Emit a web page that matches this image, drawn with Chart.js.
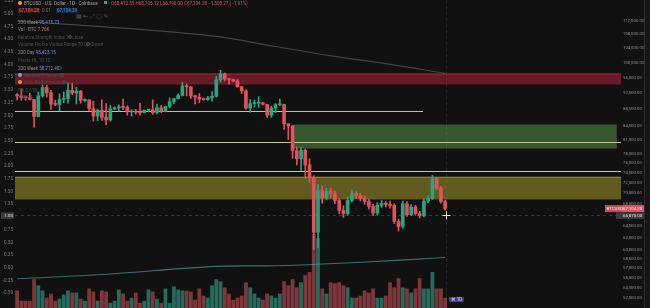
<!DOCTYPE html>
<html><head><meta charset="utf-8">
<script src="https://cdn.jsdelivr.net/npm/chart.js@4.4.1/dist/chart.umd.min.js"></script>
<style>
html,body{margin:0;padding:0;background:#111111;}
#wrap{position:relative;width:650px;height:308px;overflow:hidden;background:#111111;font-family:Roboto,"DejaVu Sans",sans-serif;}
canvas{position:absolute;left:0;top:0;}
.t{position:absolute;white-space:nowrap;font-size:4.6px;line-height:5px;color:#8a8a8a;}
.f{color:#4c4c4c;}
.b{color:#6a8fd8;}
.ic{position:absolute;width:4px;height:4px;border-radius:50%;}
.eye{position:absolute;width:4px;height:4px;border-radius:50%;border:1px solid #4a4a4a;box-sizing:border-box;}
</style></head><body>
<div id="wrap">
<canvas id="c" width="650" height="308"></canvas>
<div class="ic" style="left:18px;top:1px;background:#f0a030"></div>
<div class="t" style="left:24px;top:1px;color:#a0a0a0">BTCUSD · U.S. Dollar · 1D · Coinbase</div>
<div class="t" style="left:104px;top:1px;width:3px;height:3px;background:#2ea37f"></div>
<div class="t" style="left:111px;top:1px;color:#d2555f">O68,412.55 H68,705.12 L66,790.00 C67,104.28 −1,308.27 (−1.91%)</div>
<div class="t" style="left:18px;top:8px;background:#3b171b;color:#e0606a;padding:0 1px">67,104.28</div>
<div class="t" style="left:42px;top:8px;color:#6a6a6a">0.01</div>
<div class="t" style="left:56px;top:8px;background:#16233d;color:#5c8ee6;padding:0 1px">67,104.29</div>
<div class="t" style="left:76px;top:13px;font-size:6px;color:#555">▦ ⇤ ⤢ ▢ ✎</div>
<div class="t" style="left:18px;top:20px">200 Week <span class="b">95,475.73</span></div>
<div class="t" style="left:18px;top:27px">Vol · BTC <span style="color:#e0705a">7.76K</span></div>
<div class="t f" style="left:18px;top:35px">Relative Strength Index 14 close</div>
<div class="eye" style="left:68px;top:35px"></div>
<div class="t f" style="left:18px;top:42px">Volume Profile Visible Range 70 Up/Down</div>
<div class="eye" style="left:86px;top:42px"></div>
<div class="t" style="left:18px;top:50px">200 Day <span class="b">95,423.15</span></div>
<div class="t f" style="left:18px;top:58px">Pivots HL 10 10</div>
<div class="t" style="left:18px;top:66px">200 Week <span class="b">58,712.40</span></div>
<div class="eye" style="left:58px;top:66px"></div>
<div class="ic" style="left:18px;top:73px;background:#7a9fe8"></div>
<div class="t f" style="left:24px;top:73px">Session Volume HD</div>
<div class="eye" style="left:60px;top:73px"></div>
<div class="ic" style="left:18px;top:80px;background:#e89a3a"></div>
<div class="t f" style="left:24px;top:80px">Auto Fib Retracement</div>
<div class="eye" style="left:62px;top:80px"></div>
<div class="t f" style="left:18px;top:88px">Fib 0.618</div>
<div class="t f" style="left:18px;top:95px">ATR 14</div>
<div class="t" style="left:449px;top:297px;background:#4a3a92;color:#d8d0ff;padding:0 2px;border-radius:1px">⌘ 1D</div>
</div>
<script>
// ---- data (prices in thousands USD, volume in thousands BTC) ----
const startDay = Date.UTC(2025, 10, 27);
const categories = [];
for (let i = 0; i < 102; i++) categories.push(new Date(startDay + i * 86400000).toISOString().slice(0, 10));
const futureSlots = 41;

const opens = [91.6,91.3,90.9,90.8,90.4,86.3,91.3,93.4,92.1,89.3,89.2,90.4,90.6,92.7,92.0,92.5,90.2,90.3,88.2,86.4,87.8,86.1,85.5,88.1,88.3,88.6,88.5,87.4,87.6,87.3,87.2,87.8,87.9,87.2,88.4,87.5,88.7,89.9,90.6,91.4,93.8,93.6,91.3,91.0,90.5,90.4,90.8,91.2,95.4,97.0,95.6,95.5,95.1,93.6,92.6,88.3,89.4,89.5,89.6,89.2,86.6,88.3,89.1,89.2,84.6,84.1,78.6,76.9,78.7,75.6,73.0,62.9,
70.5,69.1,70.3,69.9,68.6,66.8,66.2,68.6,69.9,69.5,69.0,68.4,67.5,66.3,67.7,68.1,67.9,67.7,64.8,63.9,68.0,66.0,67.4,66.2,65.8,68.5,69.0,72.8,71.0,68.4];
const highs = [91.9,93.1,91.2,92.0,90.4,92.3,94.1,94.0,92.7,90.2,91.8,92.3,94.6,94.5,93.5,92.7,90.6,90.4,90.0,88.1,90.3,89.4,89.0,88.6,89.1,90.5,88.9,87.9,88.0,89.5,87.9,88.0,90.3,89.3,89.0,88.8,90.8,90.7,91.8,94.7,94.4,93.7,91.5,91.9,90.8,91.2,92.4,96.3,97.9,97.2,95.8,95.6,95.5,93.7,92.8,90.4,90.3,91.1,89.8,89.2,88.8,89.4,90.5,89.3,84.6,84.2,79.4,79.3,79.0,76.9,73.4,71.7,
71.4,70.9,71.0,70.4,69.0,67.6,69.2,70.6,70.3,70.0,69.4,68.8,67.9,68.2,68.6,68.4,68.5,68.0,65.2,68.5,68.4,67.8,67.7,66.6,68.9,69.5,73.5,73.0,71.3,68.7];
const lows = [90.3,90.2,90.2,90.3,83.8,86.2,91.0,91.0,88.0,88.9,87.7,89.6,89.5,91.6,89.3,89.5,89.8,87.6,85.2,85.3,85.4,84.4,85.2,87.9,87.6,87.9,86.6,86.4,86.9,86.6,87.1,87.4,86.8,86.9,87.2,87.4,88.4,89.3,90.5,91.3,91.3,90.7,89.3,89.6,90.2,90.2,90.0,91.0,94.8,95.1,94.3,94.9,93.5,91.9,88.0,87.3,88.6,88.5,89.1,86.1,86.1,87.2,88.9,83.3,81.0,77.0,75.6,74.5,72.9,72.1,60.0,60.3,
68.1,68.7,69.2,68.0,66.2,65.5,65.9,68.3,69.0,68.5,67.9,67.0,65.8,66.0,67.3,67.4,67.2,64.4,63.1,63.6,65.7,65.8,65.9,65.4,65.6,68.2,68.8,70.6,68.1,66.8];
const closes = [91.3,90.9,90.8,90.4,86.3,91.3,93.4,92.1,89.3,89.2,90.4,90.6,92.7,92.0,92.5,90.2,90.3,88.2,86.4,87.8,86.1,85.5,88.1,88.3,88.6,88.5,87.4,87.6,87.3,87.2,87.8,87.9,87.2,88.4,87.5,88.7,89.9,90.6,91.4,93.8,93.6,91.3,91.0,90.5,90.4,90.8,91.2,95.4,97.0,95.6,95.5,95.1,93.6,92.6,88.3,89.4,89.5,89.6,89.2,86.6,88.3,89.1,89.2,84.6,84.1,78.6,76.9,78.7,75.6,73.0,62.9,70.5,
69.1,70.3,69.9,68.6,66.8,66.2,68.6,69.9,69.5,69.0,68.4,67.5,66.3,67.7,68.1,67.9,67.7,64.8,63.9,68.0,66.0,67.4,66.2,65.8,68.5,69.0,72.8,71.0,68.4,67.1];
const volumes = [17,7,7,7,28,22,17,10,14,7,9,13,17,15,15,9,7,19,16,7,17,16,5,7,18,14,7,10,15,5,7,18,16,9,5,19,5,21,18,17,17,16,8,19,12,10,22,28,26,20,14,8,10,12,25,20,14,10,8,14,12,10,14,26,22,28,20,25,32,35,72,68,
19,14,25,24,25,22,20,10,10,12,17,15,19,10,10,12,25,20,29,20,19,15,19,29,19,19,35,19,19,10];

// moving averages read at selected candles
const ma200dIdx = [0,12,31,47,61,75,87,101];
const ma200dVal = [112.0,111.0,109.3,107.4,104.5,101.7,99.7,97.1];
const ma200wIdx = [0,19,47,61,80,101];
const ma200wVal = [55.4,56.0,57.3,57.4,57.9,58.7];

// right (price) and left (indicator) tick labels
const priceTicks = [112,108,104,100,96,92,88,84,81,78,76,74,72,70,68,64,62,60,58.5,57,55.5,54,52.5];
const leftTicks = [5.25,5.00,4.75,4.50,4.25,4.00,3.75,3.50,3.25,3.00,2.75,2.50,2.25,2.00,1.75,1.50,1.25,1.00,0.75,0.50,0.25,0.00,-0.25,-0.50];

// drawn zones / levels (prices in thousands)
const zoneRedTop = 97.06, zoneRedBottom = 94.18;
const zoneGreenTop = 84.43, zoneGreenBottom = 79.07;
const zoneYellowTop = 73.25, zoneYellowBottom = 68.8;
const levelYellow = 87.5, levelGreen = 80.6, levelUpper = 74.46;
const lastPrice = 67.1, crossPrice = 65.87, crossIndex = 101.2;

// ---- build ----
const labels = categories.concat(new Array(futureSlots).fill(''));
const UP = '#2ea37f', DOWN = '#e0525c';
const upDown = opens.map((o, i) => closes[i] >= o ? UP : DOWN);
const volCol = opens.map((o, i) => closes[i] >= o ? 'rgba(46,150,130,0.68)' : 'rgba(200,80,86,0.6)');
const lineData = (idx, val) => idx.map((k, j) => ({x: categories[k], y: val[j]}));

const fmt = v => (v * 1000).toLocaleString('en-US', {minimumFractionDigits: 2, maximumFractionDigits: 2});

const decor = {
  id: 'decor',
  beforeDatasetsDraw(chart) {
    const {ctx, chartArea: a, scales: {x, y}} = chart;
    const X = v => x.getPixelForValue(v);
    const Y = v => y.getPixelForValue(v);
    ctx.save();
    ctx.fillStyle = 'rgba(130,30,45,0.78)';
    ctx.fillRect(a.left, Y(zoneRedTop), a.right - a.left, Y(zoneRedBottom) - Y(zoneRedTop));
    ctx.fillStyle = 'rgba(190,70,85,0.5)';
    ctx.fillRect(a.left, Y(zoneRedTop), a.right - a.left, 1);
    const gx0 = X(65.1), gx1 = X(141.5);
    ctx.fillStyle = 'rgba(62,100,52,0.85)';
    ctx.fillRect(gx0, Y(zoneGreenTop), gx1 - gx0, Y(zoneGreenBottom) - Y(zoneGreenTop));
    ctx.fillStyle = 'rgba(112,105,36,0.85)';
    ctx.fillRect(a.left, Y(zoneYellowTop), a.right - a.left, Y(zoneYellowBottom) - Y(zoneYellowTop));
    ctx.lineWidth = 1;
    const hl = (p, x0, x1, c) => { ctx.strokeStyle = c; ctx.beginPath(); const yy = Math.round(Y(p)) + 0.5; ctx.moveTo(x0, yy); ctx.lineTo(x1, yy); ctx.stroke(); };
    hl(levelYellow, a.left, X(95.8), '#c9c196');
    hl(levelGreen, a.left, a.right, '#c4cc9c');
    hl(levelUpper, a.left, a.right, '#c8c4a0');
    hl(zoneYellowTop, a.left, a.right, 'rgba(200,190,120,0.35)');
    ctx.setLineDash([3, 3]);
    ctx.strokeStyle = 'rgba(150,150,150,0.28)';
    const cy = Math.round(Y(crossPrice)) + 0.5, cx = Math.round(X(crossIndex)) + 0.5;
    ctx.beginPath(); ctx.moveTo(a.left, cy); ctx.lineTo(a.right, cy); ctx.stroke();
    ctx.strokeStyle = 'rgba(150,150,150,0.16)';
    ctx.beginPath(); ctx.moveTo(cx, a.top); ctx.lineTo(cx, a.bottom); ctx.stroke();
    ctx.restore();
  },
  afterDraw(chart) {
    const {ctx, scales: {x, y, yl}} = chart;
    const Y = v => y.getPixelForValue(v);
    ctx.save();
    ctx.fillStyle = '#161616'; ctx.fillRect(645, 0, 5, 308);
    ctx.fillStyle = '#2e2e2e'; ctx.fillRect(644, 0, 1, 308);
    ctx.font = '4.4px Roboto';
    ctx.textBaseline = 'middle';
    const ly = Y(lastPrice);
    ctx.fillStyle = '#c94a58'; ctx.fillRect(605, ly - 3.5, 17, 7);
    ctx.fillStyle = '#e8505e'; ctx.fillRect(622, ly - 3.5, 22, 7);
    ctx.fillStyle = '#ffe6e8';
    ctx.fillText('BTCUSD', 606.5, ly);
    ctx.fillText('67,104.28', 623, ly);
    const cy = Y(crossPrice);
    ctx.fillStyle = '#3c3c3c'; ctx.fillRect(616, cy - 3, 28, 6.5);
    ctx.fillStyle = '#e6e6e6'; ctx.fillText(fmt(crossPrice), 623, cy + 0.3);
    ctx.fillStyle = '#3c3c3c'; ctx.fillRect(1, cy - 3, 13, 6.5);
    ctx.fillStyle = '#e6e6e6'; ctx.textAlign = 'right';
    ctx.fillText(yl.getValueForPixel(cy).toFixed(2), 13, cy + 0.3);
    const cx = Math.round(x.getPixelForValue(crossIndex)) + 0.5;
    ctx.strokeStyle = '#e8e8e8'; ctx.lineWidth = 1;
    ctx.beginPath(); ctx.moveTo(cx - 4, Math.round(cy) + 0.5); ctx.lineTo(cx + 4, Math.round(cy) + 0.5);
    ctx.moveTo(cx, cy - 4); ctx.lineTo(cx, cy + 4); ctx.stroke();
    ctx.restore();
  }
};

const noPad = s => { s.paddingTop = 0; s.paddingBottom = 0; };

new Chart(document.getElementById('c'), {
  data: {
    labels,
    datasets: [
      {type: 'bar', label: 'body', data: opens.map((o, i) => [o, closes[i]]), backgroundColor: upDown,
       barThickness: 3, minBarLength: 1, grouped: false, yAxisID: 'y', order: 0},
      {type: 'bar', label: 'wick', data: lows.map((l, i) => [l, highs[i]]), backgroundColor: upDown,
       barThickness: 1, grouped: false, yAxisID: 'y', order: 1},
      {type: 'line', label: '200 Day', data: lineData(ma200dIdx, ma200dVal), borderColor: 'rgba(120,120,120,0.5)',
       borderWidth: 1.2, pointRadius: 0, tension: 0.35, yAxisID: 'y', order: 2},
      {type: 'line', label: '200 Week', data: lineData(ma200wIdx, ma200wVal), borderColor: 'rgba(80,150,150,0.7)',
       borderWidth: 1.1, pointRadius: 0, tension: 0.35, yAxisID: 'y', order: 2},
      {type: 'bar', label: 'Vol', data: volumes, backgroundColor: volCol, barPercentage: 1, categoryPercentage: 0.9,
       grouped: false, yAxisID: 'yv', order: 3}
    ]
  },
  options: {
    responsive: false, animation: false, devicePixelRatio: 1,
    layout: {padding: 0},
    plugins: {legend: {display: false}, tooltip: {enabled: false}},
    scales: {
      x: {type: 'category', display: false, offset: true, grid: {display: false}},
      y: {type: 'logarithmic', position: 'right', min: 51.14, max: 118.65,
          grid: {display: false, drawTicks: false}, border: {display: false},
          afterBuildTicks: s => { s.ticks = priceTicks.map(v => ({value: v})); },
          afterFit: s => { s.width = 29; noPad(s); },
          ticks: {padding: 2, color: '#8c8c8c', font: {family: 'Roboto', size: 4.3}, callback: v => fmt(v)}},
      yl: {type: 'linear', position: 'left', min: -0.79, max: 5.27,
           grid: {display: false, drawTicks: false}, border: {display: false},
           afterBuildTicks: s => { s.ticks = leftTicks.map(v => ({value: v})); },
           afterFit: s => { s.width = 15; noPad(s); },
           ticks: {padding: 2, color: '#7c7c7c', font: {family: 'Roboto', size: 4.6}, callback: v => v.toFixed(2)}},
      yv: {type: 'linear', display: false, min: 0, max: 300}
    }
  },
  plugins: [decor]
});
</script>
</body></html>
